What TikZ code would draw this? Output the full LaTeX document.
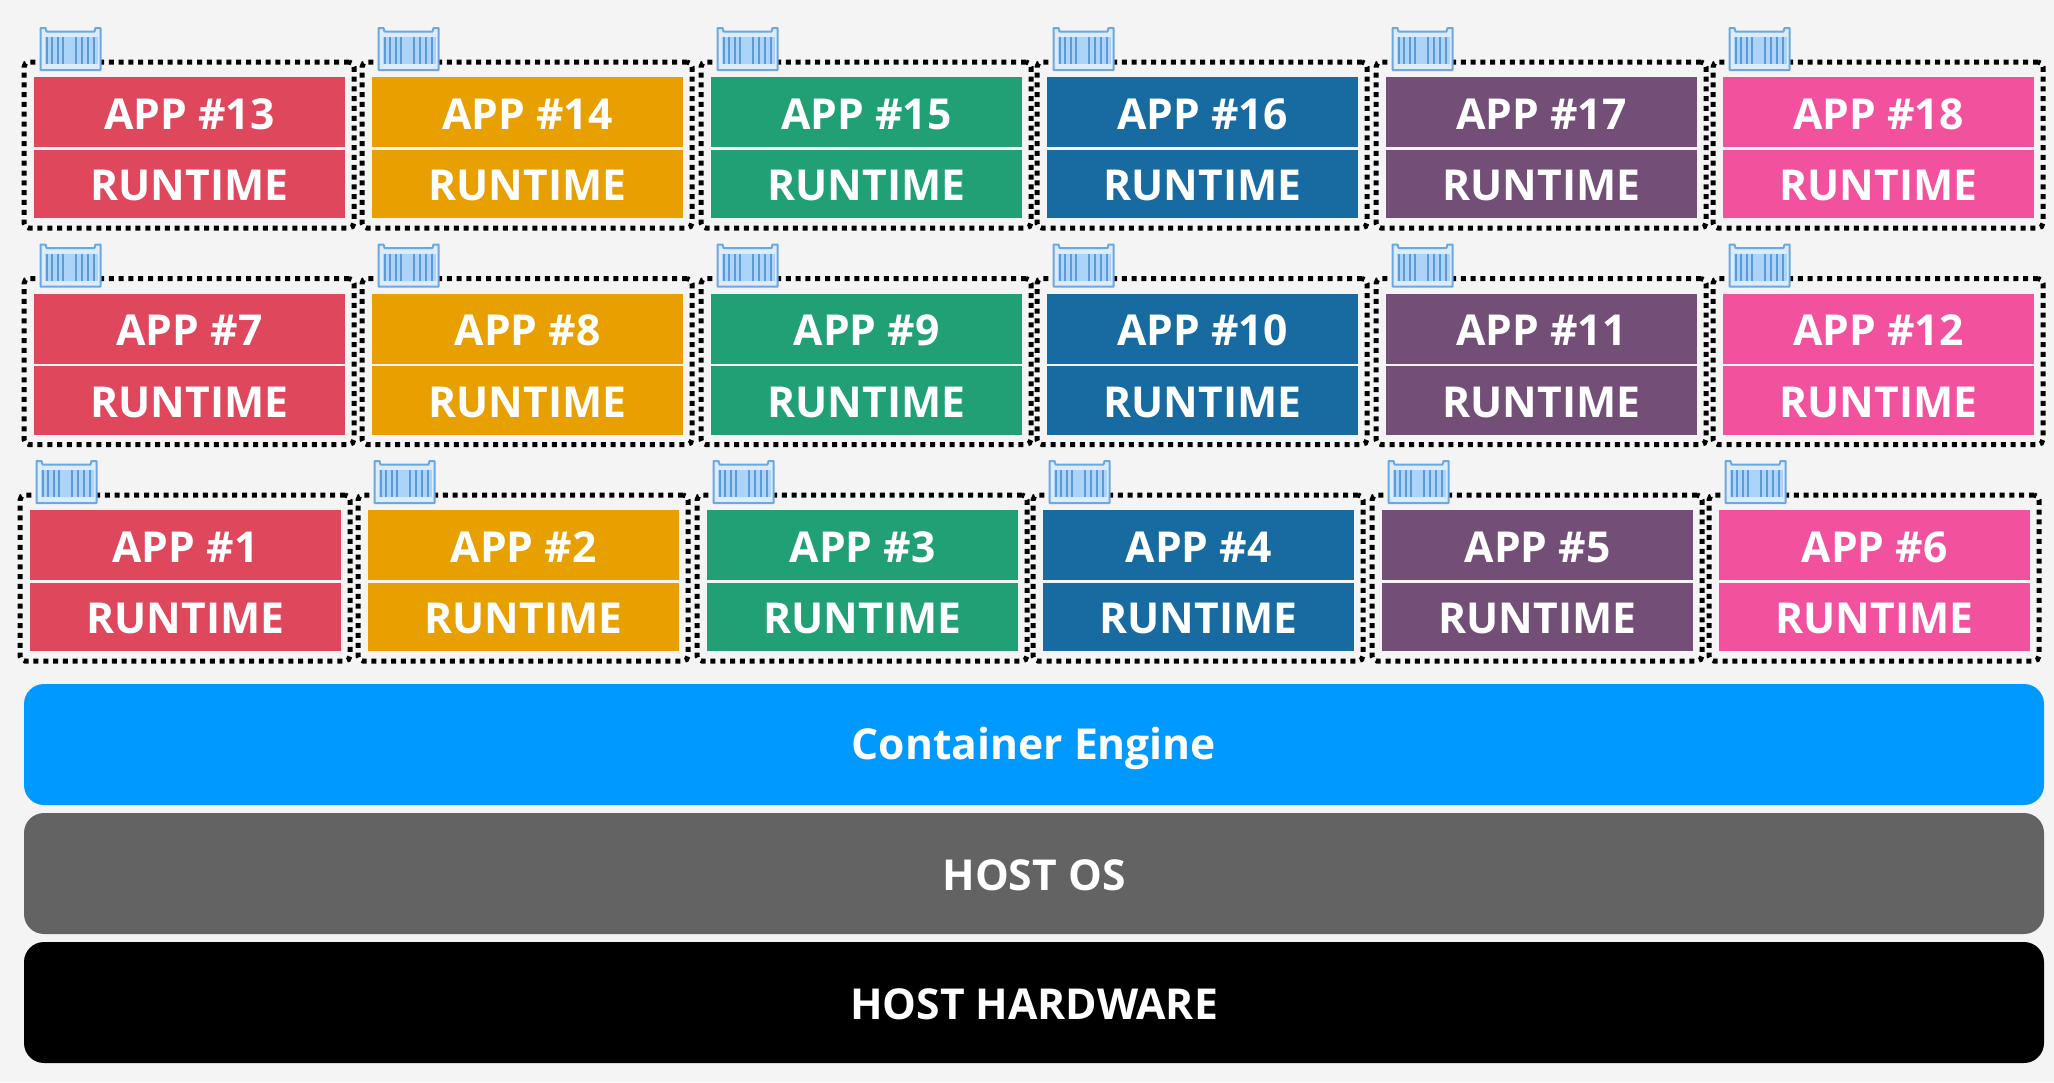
\documentclass[tikz,border=0pt]{standalone}
\usepackage{fontspec}
\setmainfont{Open Sans}
\definecolor{bgc}{HTML}{F4F4F4}
\definecolor{cola}{HTML}{DF475D}
\definecolor{colb}{HTML}{E8A000}
\definecolor{colc}{HTML}{21A075}
\definecolor{cold}{HTML}{176BA0}
\definecolor{cole}{HTML}{734F78}
\definecolor{colf}{HTML}{F2529D}
\definecolor{engc}{HTML}{0099FF}
\definecolor{osc}{HTML}{636363}
\definecolor{iconfill}{HTML}{DCECFB}
\definecolor{iconpanel}{HTML}{ACD4F8}
\definecolor{iconline}{HTML}{6BA7E0}
\definecolor{iconbar}{HTML}{5C9ADA}
\tikzset{
  layer/.style={rectangle,inner sep=0pt,outer sep=0pt,text=white,font=\fontsize{42.6}{50}\selectfont\bfseries,align=center,minimum width=311pt,anchor=north west,text depth=0pt,text height=34pt},
  appbox/.style={layer,minimum height=70pt},
  runbox/.style={layer,minimum height=68.5pt},
  dotbox/.style={rectangle,draw=black,line width=5pt,dash pattern=on 5pt off 4.8pt,rounded corners=5pt,inner sep=0pt,outer sep=0pt,minimum width=330pt,minimum height=166pt,anchor=north west},
  basebox/.style={rectangle,rounded corners=20pt,inner sep=0pt,outer sep=0pt,minimum width=2020pt,minimum height=121pt,anchor=north west,text=white,font=\fontsize{42.6}{50}\selectfont\bfseries},
}
\newcommand{\boxicon}[2]{%
  \begin{scope}[shift={(#1,#2)}]
    \filldraw[fill=iconfill,draw=iconline,line width=2pt,line join=round] (0,0) -- (5,0) -- (6,3.5) -- (54,3.5) -- (55,0) -- (60,0) -- (60,42) -- (0,42) -- cycle;
    \fill[iconpanel] (4.5,9) rectangle (57,36);
    \foreach \bx in {6.2,11.2,17.2,22.8,35.2,41.2,47.2,53.2}
      \draw[iconbar,line width=2pt] (\bx,9) -- (\bx,36);
  \end{scope}}
\begin{document}
\begin{tikzpicture}[x=1pt,y=-1pt]
\path[fill=bgc,use as bounding box] (0,0) rectangle (2054,1082);
\foreach \rowy/\rowdx/\first in {77/0/13,293.5/0/7,510/-4/1}{
  \foreach \cx/\cc [count=\ci from 0] in {34/cola,372/colb,711/colc,1047/cold,1386/cole,1723/colf}{
    \pgfmathtruncatemacro{\num}{\first+\ci}
    \pgfmathsetmacro{\xx}{\cx+\rowdx}
    \node[dotbox] (d\num) at (\xx-10,\rowy-15) {};
    \boxicon{\xx+6.5}{\rowy-49}
    \node[appbox,fill=\cc] (a\num) at (\xx,\rowy) {APP \#\num};
    \node[runbox,fill=\cc] (r\num) at (\xx,\rowy+72.5) {RUNTIME};
  }
}
\node[basebox,fill=engc,text height=34pt,text depth=5pt] (eng) at (24,684) {Container Engine};
\node[basebox,fill=osc,text height=34pt,text depth=0pt] (os) at (24,813) {HOST OS};
\node[basebox,fill=black,text height=34pt,text depth=0pt] (hw) at (24,942) {HOST HARDWARE};
\end{tikzpicture}
\end{document}
